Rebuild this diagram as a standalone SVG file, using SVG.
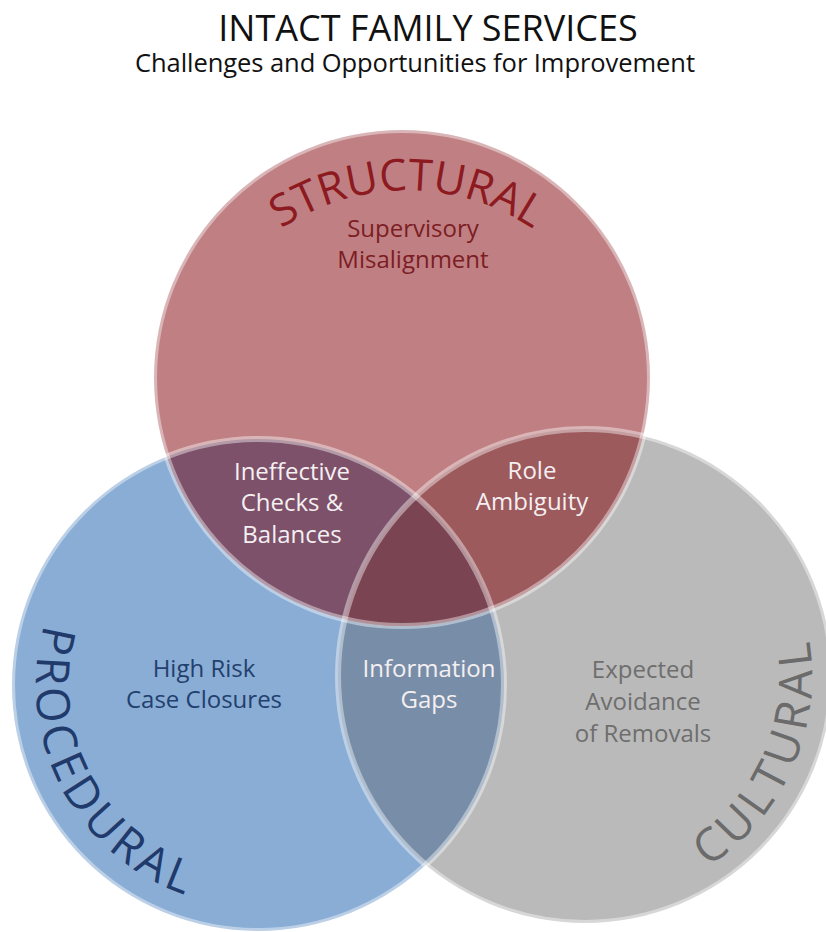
<svg xmlns="http://www.w3.org/2000/svg" width="826" height="932" viewBox="0 0 826 932">
  <style>
    text { font-family: "Open Sans", "Noto Sans", "Liberation Sans", sans-serif; }
    .title { font-size: 36px; fill: #111111; }
    .subtitle { font-size: 25.5px; fill: #111111; }
    .lbl { font-size: 24px; text-anchor: middle; }
    .white { fill: #f4eff1; }
    .red { fill: #7c1d24; }
    .navy { fill: #22406e; }
    .gray { fill: #6e6e6e; }
    .edge { fill: none; stroke: #ffffff; stroke-opacity: 0.42; stroke-width: 6; }
    .big { font-size: 46px; }
  </style>
  <defs>
    <clipPath id="clipS"><circle cx="402" cy="378" r="248"/></clipPath>
    <clipPath id="clipP"><circle cx="258" cy="685" r="246"/></clipPath>
    <clipPath id="clipC"><circle cx="585" cy="676" r="247"/></clipPath>
    <path id="arcS" d="M242.9,261.5 A225,225 0 0 1 571.1,261.5"/>
    <path id="arcP" d="M69.7,567.4 A222,222 0 0 0 250.3,906.9"/>
    <path id="arcC" d="M610.3,901.6 A227,227 0 0 0 767.7,541.3"/>
  </defs>
  <rect x="0" y="0" width="826" height="932" fill="#ffffff"/>

  <g id="title">
    <text class="title" x="428" y="41" text-anchor="middle">INTACT FAMILY SERVICES</text>
    <text class="subtitle" x="415" y="72" text-anchor="middle" textLength="560" lengthAdjust="spacing">Challenges and Opportunities for Improvement</text>
  </g>

  <g id="node-cultural">
    <circle cx="585" cy="676" r="247" fill="#bababa"/>
  </g>
  <g id="node-procedural">
    <circle cx="258" cy="685" r="246" fill="#8aadd5"/>
  </g>
  <g id="node-structural">
    <circle cx="402" cy="378" r="248" fill="#c08083"/>
  </g>
  <g id="overlap-procedural-cultural">
    <circle cx="258" cy="685" r="246" fill="#788ea8" clip-path="url(#clipC)"/>
  </g>
  <g id="overlap-structural-procedural">
    <circle cx="402" cy="378" r="248" fill="#7d5169" clip-path="url(#clipP)"/>
  </g>
  <g id="overlap-structural-cultural">
    <circle cx="402" cy="378" r="248" fill="#9c5a5d" clip-path="url(#clipC)"/>
  </g>
  <g id="overlap-all" clip-path="url(#clipC)">
    <circle cx="402" cy="378" r="248" fill="#7b4452" clip-path="url(#clipP)"/>
  </g>

  <g id="edges">
    <circle class="edge" cx="585" cy="676" r="247"/>
    <circle class="edge" cx="258" cy="685" r="246"/>
    <circle class="edge" cx="402" cy="378" r="248"/>
  </g>

  <g id="connectors"/>

  <g id="label-structural">
    <text style="font-size:44px;fill:#8c1a20;letter-spacing:-0.3px" text-anchor="middle"><textPath href="#arcS" startOffset="50%">STRUCTURAL</textPath></text>
    <text class="lbl red" x="413" y="237">Supervisory</text>
    <text class="lbl red" x="413" y="268">Misalignment</text>
  </g>
  <g id="label-procedural">
    <text class="big" style="fill:#1f3a6b;letter-spacing:4.5px" text-anchor="middle"><textPath href="#arcP" startOffset="50%">PROCEDURAL</textPath></text>
    <text class="lbl navy" x="204" y="677">High Risk</text>
    <text class="lbl navy" x="204" y="708">Case Closures</text>
  </g>
  <g id="label-cultural">
    <text class="big" style="fill:#6b6b6b;letter-spacing:5px" text-anchor="middle"><textPath href="#arcC" startOffset="50%">CULTURAL</textPath></text>
    <text class="lbl gray" x="643" y="678">Expected</text>
    <text class="lbl gray" x="643" y="710">Avoidance</text>
    <text class="lbl gray" x="643" y="742">of Removals</text>
  </g>
  <g id="label-structural-procedural">
    <text class="lbl white" x="292" y="480">Ineffective</text>
    <text class="lbl white" x="292" y="511">Checks &amp;</text>
    <text class="lbl white" x="292" y="543">Balances</text>
  </g>
  <g id="label-structural-cultural">
    <text class="lbl white" x="532" y="479">Role</text>
    <text class="lbl white" x="532" y="510">Ambiguity</text>
  </g>
  <g id="label-procedural-cultural">
    <text class="lbl white" x="429" y="677">Information</text>
    <text class="lbl white" x="429" y="708">Gaps</text>
  </g>
</svg>
